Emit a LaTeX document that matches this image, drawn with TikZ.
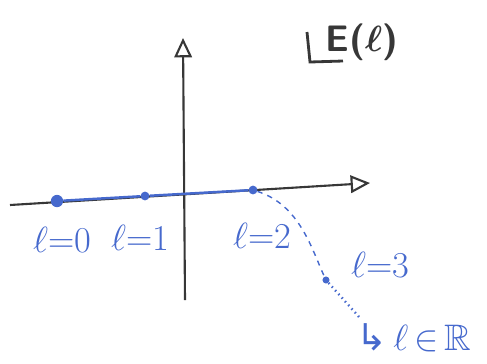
\documentclass[tikz,border=0pt]{standalone}
\usepackage{fontspec}
\usepackage{amsmath}
\usepackage{amssymb}
\usepackage{xcolor}
\usetikzlibrary{arrows.meta, positioning}
\newfontfamily\arrowfont{DejaVu Sans}
\definecolor{penblue}{RGB}{70,105,205}
\definecolor{pencil}{RGB}{55,55,55}

\begin{document}
\begin{tikzpicture}[
    x=0.02cm, y=-0.02cm,
    axis line/.style = {
        draw=pencil,
        line width=1.2pt,
        -{Triangle[open, length=11pt, width=10pt]}
    },
    level dot/.style = {
        circle,
        fill=penblue,
        inner sep=0pt,
        minimum size=7pt
    },
    level label/.style = {
        text=penblue,
        font=\fontsize{21}{25}\selectfont
    },
    energy path/.style = {
        draw=penblue,
        thick
    }
]
\useasboundingbox (0,0) rectangle (487,363);

% axes
\coordinate (xstart) at (10,205);
\coordinate (xend) at (370,183);
\coordinate (ystart) at (185,300);
\coordinate (yend) at (183,38);
\draw[axis line] (xstart) -- (xend);
\draw[axis line] (ystart) -- (yend);

% axis label
\coordinate (corner top) at (307,32);
\coordinate (corner) at (310,62);
\coordinate (corner right) at (343,61);
\draw[pencil, line width=1.6pt] (corner top) -- (corner) -- (corner right);
\node[text=pencil, font=\fontsize{21}{25}\selectfont\sffamily\bfseries] (elabel) at (362,42) {E($\boldsymbol\ell$)};

% levels
\node[level dot] (p0) at (57,201) {};
\node[level dot, minimum size=5pt] (p1) at (145,196) {};
\node[level dot, minimum size=5pt] (p2) at (253,190) {};
\node[level dot, minimum size=4pt] (p3) at (326,280) {};
\coordinate (tail) at (360,318);

\draw[energy path, line width=1.4pt] (p0) -- (p1) -- (p2);
\draw[energy path, dashed] (p2) .. controls (300,205) and (312,250) .. (p3);
\draw[energy path, dotted, line width=1.4pt] (p3) -- (tail);

\node[level label] (l0) at (62,240) {$\ell{=}0$};
\node[level label] (l1) at (140,238) {$\ell{=}1$};
\node[level label] (l2) at (262,236) {$\ell{=}2$};
\node[level label] (l3) at (380,265) {$\ell{=}3$};
\node[level label, anchor=west, inner sep=0pt] (lr) at (356,338) {{\arrowfont ↳}\,$\ell\,{\in}\,\mathbb{R}$};

\end{tikzpicture}
\end{document}
